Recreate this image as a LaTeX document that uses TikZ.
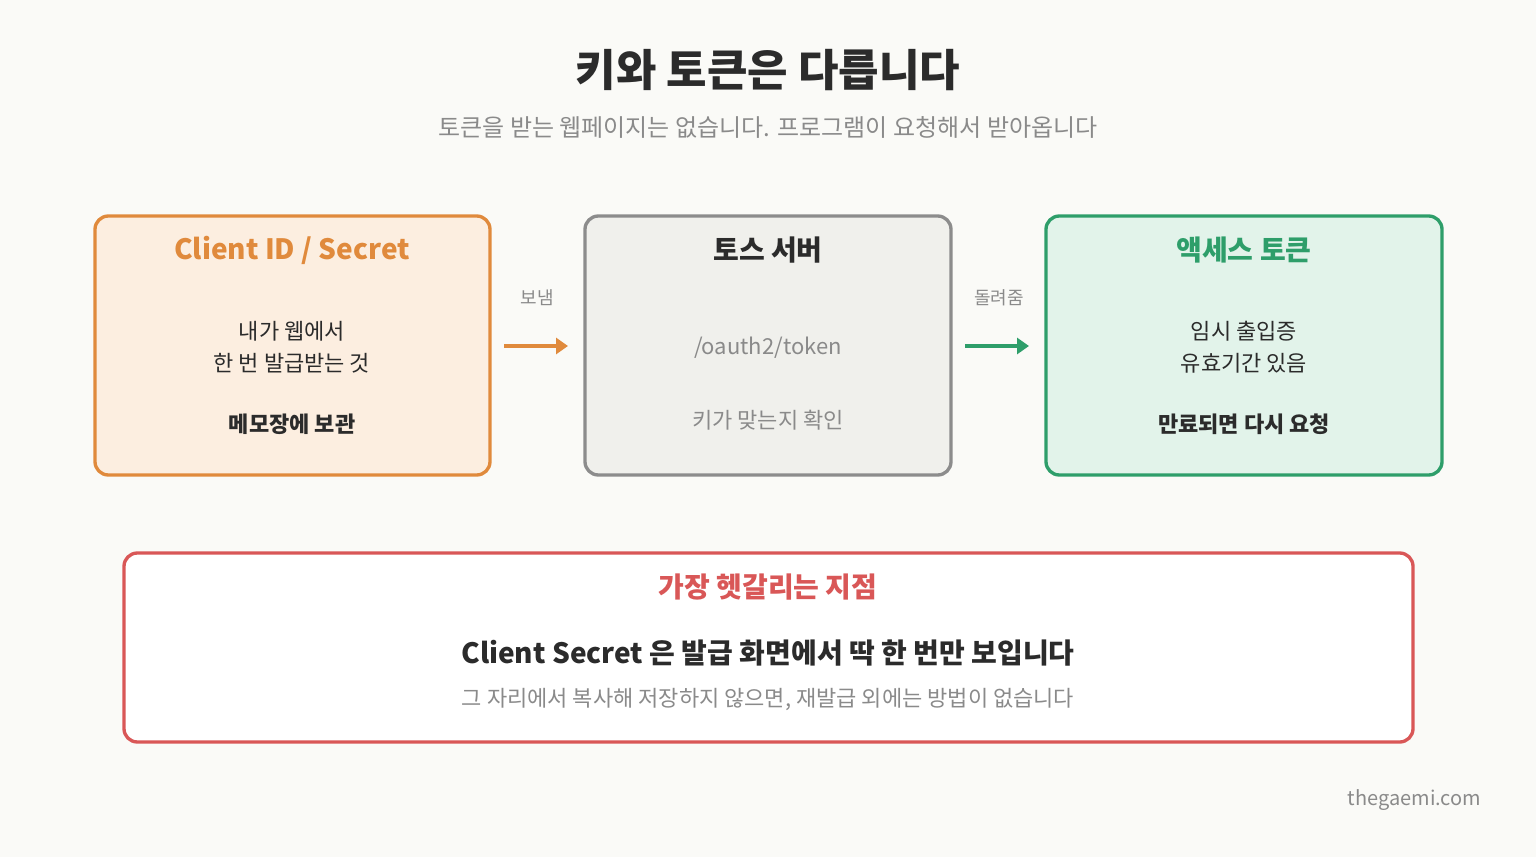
\documentclass[tikz,border=0pt]{standalone}
\usepackage{fontspec}
\setmainfont{Noto Sans CJK KR}
\usetikzlibrary{arrows.meta,positioning}
\definecolor{bgc}{HTML}{FAFAF7}
\definecolor{ink}{HTML}{2B2B2B}
\definecolor{mute}{HTML}{8A8A8A}
\definecolor{orng}{HTML}{E08A3C}
\definecolor{orngbg}{HTML}{FCEEE0}
\definecolor{gry}{HTML}{8C8C8C}
\definecolor{grybg}{HTML}{F0F0EC}
\definecolor{grn}{HTML}{2E9E6A}
\definecolor{grnbg}{HTML}{E2F3EA}
\definecolor{rd}{HTML}{D95757}
\tikzset{
  box/.style={draw, line width=2.5pt, rounded corners=10pt},
  head/.style={font=\fontsize{21}{25}\selectfont\bfseries},
  body/.style={font=\fontsize{16.5}{25}\selectfont, text=ink, align=center},
  note/.style={font=\fontsize{13.5}{16}\selectfont, text=mute},
  flow/.style={line width=3pt, -{Triangle[length=9pt,width=12pt]}}
}
\begin{document}
\begin{tikzpicture}[x=0.75pt,y=-0.75pt]
  \fill[bgc] (0,0) rectangle (1536,857);
  \node[font=\fontsize{33}{38}\selectfont\bfseries, text=ink] (title) at (768,70) {키와 토큰은 다릅니다};
  \node[font=\fontsize{18}{22}\selectfont, text=mute] (sub) at (768,127) {토큰을 받는 웹페이지는 없습니다. 프로그램이 요청해서 받아옵니다};
  % three boxes
  \draw[box, orng, fill=orngbg] (95,216) rectangle (490,475);
  \node[head, text=orng] (cid) at (292,250) {Client ID / Secret};
  \node[body] (cidtxt) at (292,347) {내가 웹에서\\[-1pt]한 번 발급받는 것};
  \node[body, font=\fontsize{16.5}{25}\selectfont\bfseries] (cidkeep) at (292,424) {메모장에 보관};
  \draw[box, gry, fill=grybg] (585,216) rectangle (951,475);
  \node[head, text=ink] (srv) at (768,250) {토스 서버};
  \node[body, text=mute] (srvpath) at (768,348) {/oauth2/token};
  \node[body, text=mute] (srvchk) at (768,420) {키가 맞는지 확인};
  \draw[box, grn, fill=grnbg] (1046,216) rectangle (1442,475);
  \node[head, text=grn] (tok) at (1244,250) {액세스 토큰};
  \node[body] (toktxt) at (1244,347) {임시 출입증\\[-1pt]유효기간 있음};
  \node[body, font=\fontsize{16.5}{25}\selectfont\bfseries] (tokexp) at (1244,424) {만료되면 다시 요청};
  % arrows
  \coordinate (a1) at (504,346); \coordinate (b1) at (568,346);
  \coordinate (a2) at (965,346); \coordinate (b2) at (1029,346);
  \draw[flow, orng] (a1) -- (b1);
  \draw[flow, grn] (a2) -- (b2);
  \node[note] (send) at (537,298) {보냄};
  \node[note] (back) at (999,298) {돌려줌};
  % callout
  \draw[box, rd, fill=white] (124,553) rectangle (1413,742);
  \node[head, text=rd] (warn) at (768,587) {가장 헷갈리는 지점};
  \node[head, text=ink] (warnmain) at (768,653) {Client Secret 은 발급 화면에서 딱 한 번만 보입니다};
  \node[body, text=mute] (warnsub) at (768,699) {그 자리에서 복사해 저장하지 않으면, 재발급 외에는 방법이 없습니다};
  \node[font=\fontsize{15}{18}\selectfont, text=mute, anchor=east] (site) at (1486,800) {thegaemi.com};
\end{tikzpicture}
\end{document}
